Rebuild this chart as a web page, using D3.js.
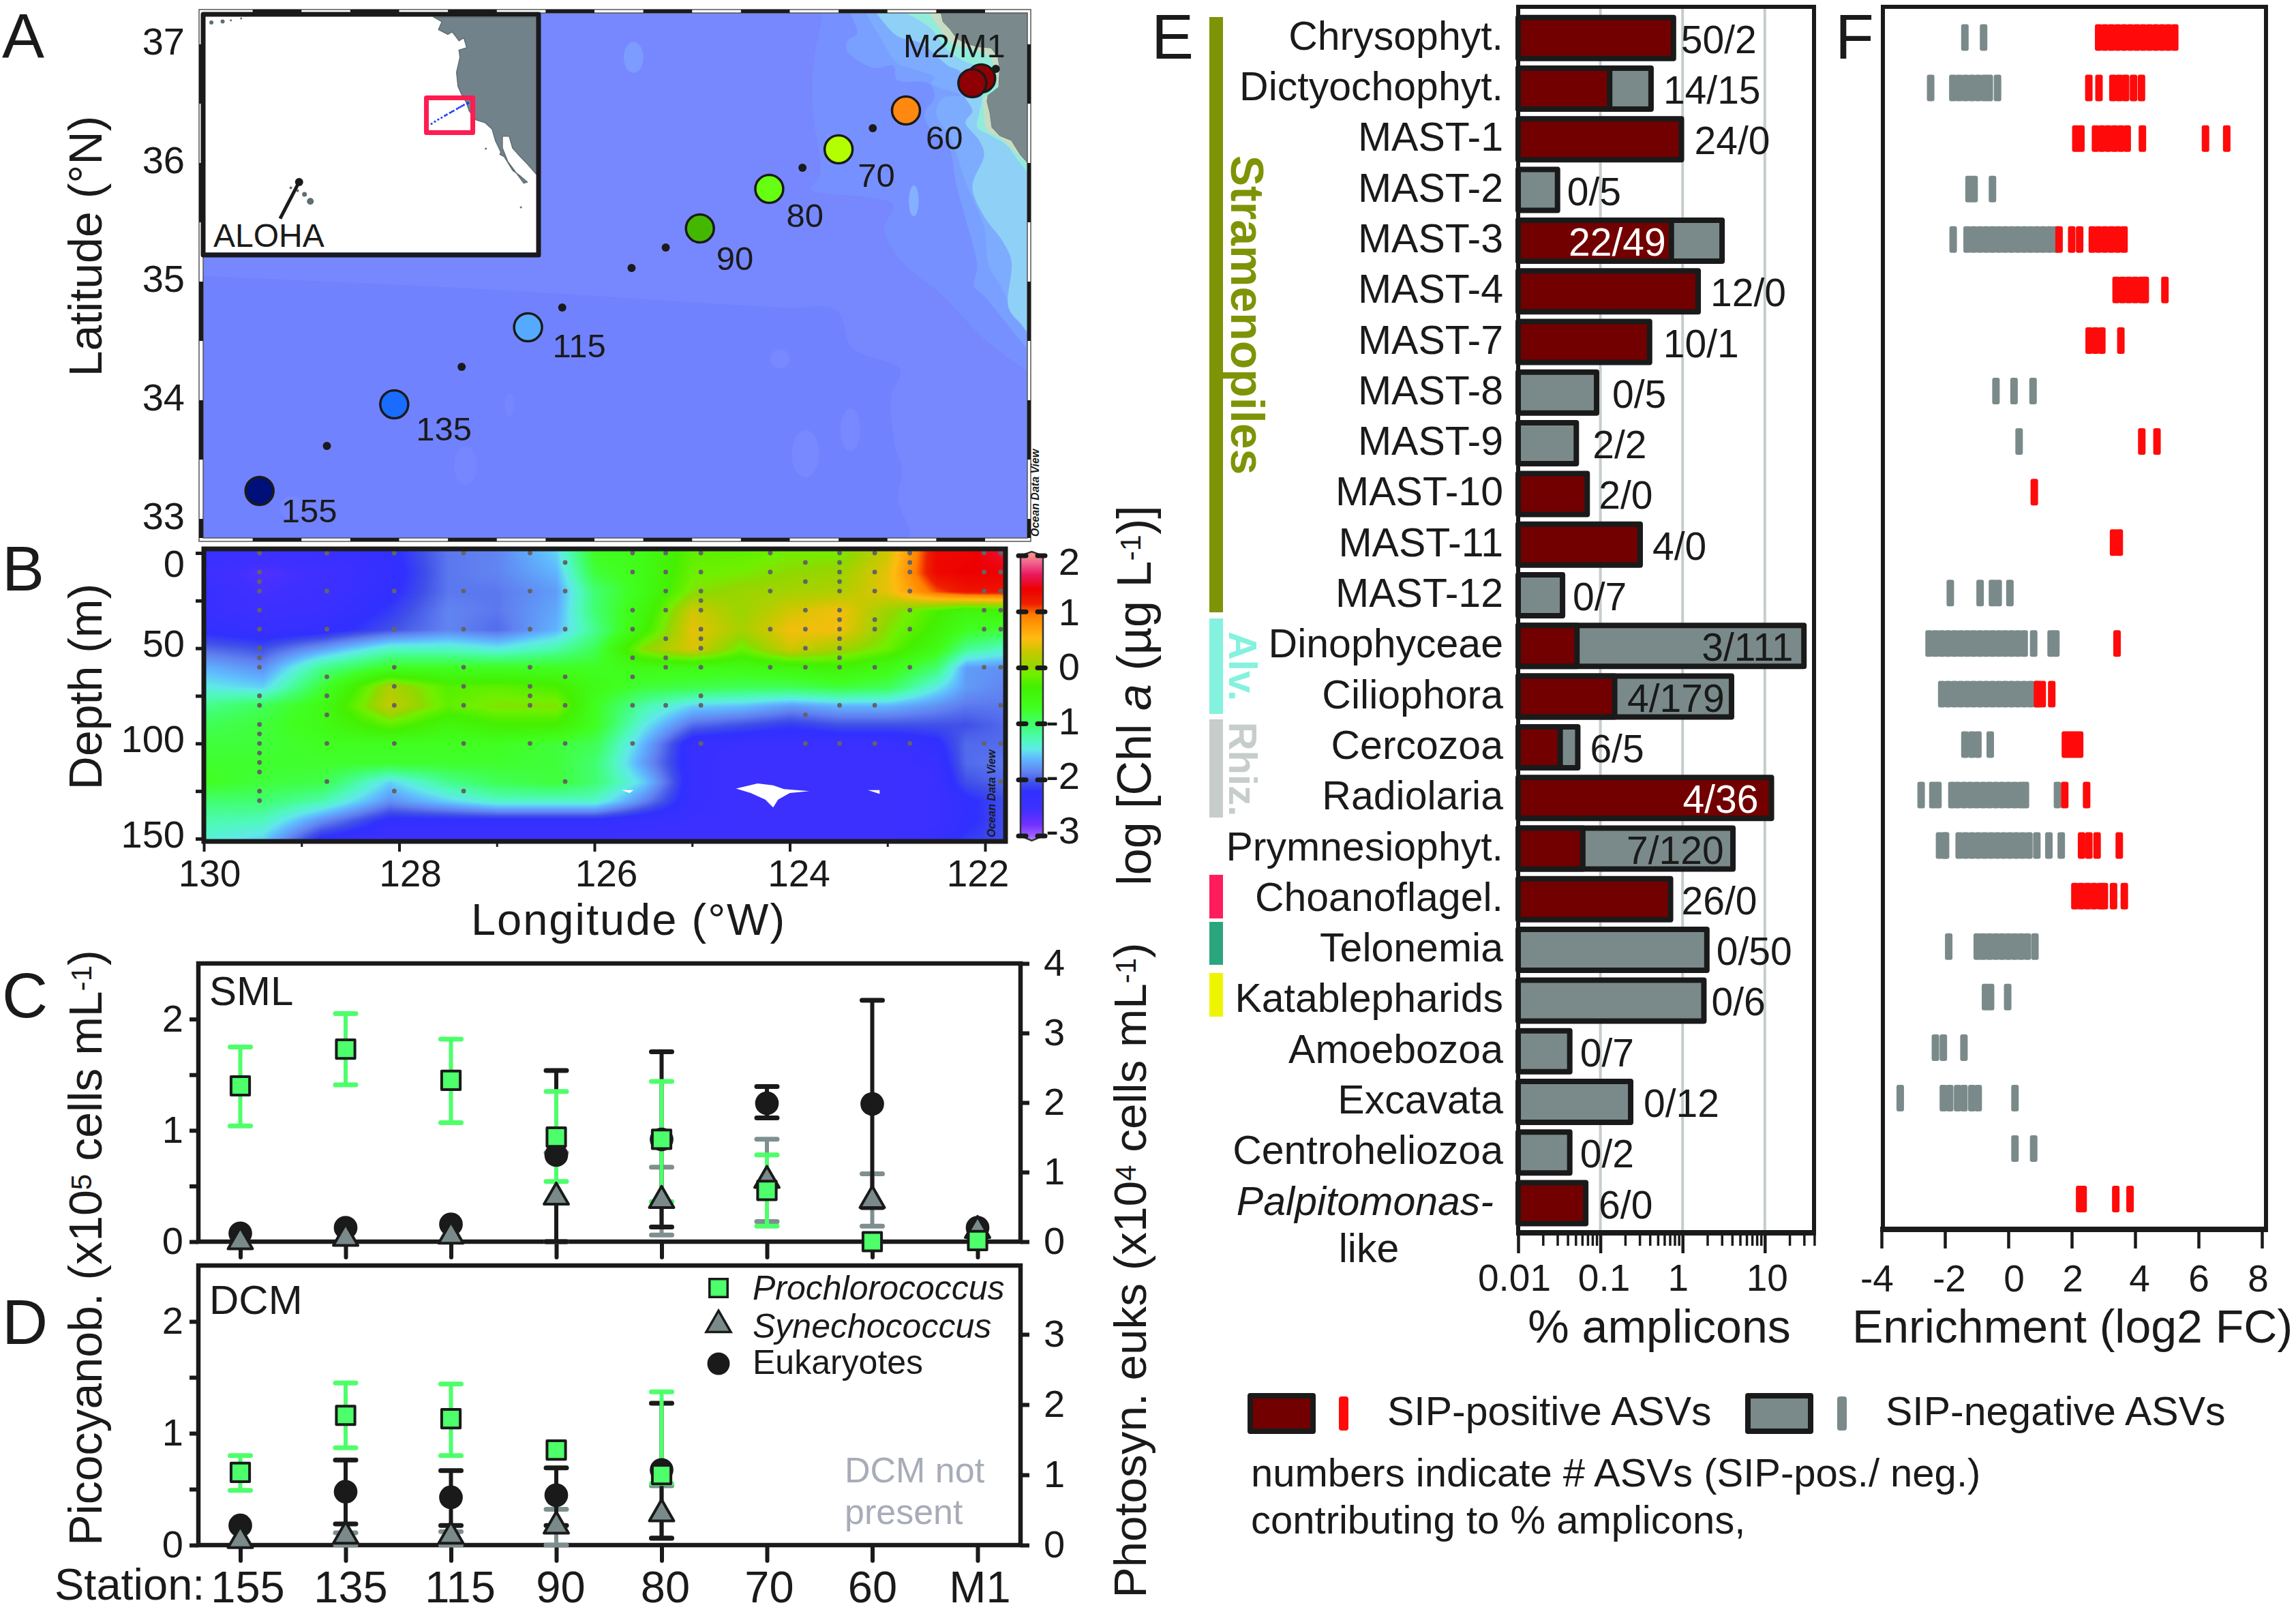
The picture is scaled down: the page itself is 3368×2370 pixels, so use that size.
<!DOCTYPE html>
<html><head><meta charset="utf-8">
<script src="https://cdn.jsdelivr.net/npm/d3@7"></script>
<style>html,body{margin:0;padding:0;background:#fff}svg{display:block}</style>
</head><body>
<script>
// ---------- DATA: panel A ----------
const stationNames=["155","135","115","90","80","70","60","M1","M2"];
const stationLon=[129.43,128.05,126.68,124.92,124.21,123.5,122.81,122.04,122.13];
const stationLat=[33.236,33.966,34.615,35.448,35.782,36.115,36.443,36.713,36.672];
const stationColor=["#00107A","#1A6CFF","#55AAFF","#44B800","#66FF11","#B2FF00","#FF8811","#8F0004","#8F0004"];
const minorLon=[128.74,127.36,126.33,125.62,125.27,123.87,123.15,121.89];
const minorLat=[33.615,34.282,34.782,35.115,35.287,35.96,36.293,36.793];
const coast=[[122.45,37.26],[122.43,37.19],[122.36,37.13],[122.29,37.05],[122.2,37.01],[122.08,36.98],[121.94,36.97],[121.87,36.9],[121.85,36.8],[121.86,36.64],[121.92,36.6],[121.97,36.57],[121.98,36.52],[121.95,36.42],[121.93,36.3],[121.85,36.23],[121.73,36.19],[121.64,36.07],[121.565,36],[121.565,37.26]];
const levelColors=["#7790FF","#7AA0FF","#7DACFF","#8FD0F6","#92ECDC","#C8DCC4"];
const levels=[
 [[123.66,37.26],[123.76,36.8],[123.76,36.42],[123.69,35.9],[123.78,35.78],[123.17,35.71],[122.94,35.65],[123.03,35.44],[122.85,35.17],[122.43,34.88],[121.97,34.49],[121.5,34.21]],
 [[123.38,37.26],[123.31,37.09],[123.41,37.03],[123.41,36.94],[123.13,36.8],[122.94,36.82],[122.9,36.7],[122.57,36.67],[122.52,36.55],[122.62,36.42],[122.57,36.3],[122.38,36.15],[122.29,35.8],[122.2,35.53],[122.08,35.13],[122.11,34.96],[122.01,34.88],[121.82,34.69],[121.5,34.36]],
 [[123.22,37.26],[123.08,37.07],[122.9,36.84],[122.76,36.8],[122.52,36.72],[122.55,36.67],[122.24,36.57],[122.43,36.55],[122.5,36.42],[122.34,36.19],[122.2,35.84],[122.01,35.46],[121.96,35.13],[121.85,34.98],[121.73,34.78],[121.5,34.48]],
 [[123.11,37.26],[122.9,37.07],[122.66,37.01],[122.38,36.82],[122.24,36.76],[122.2,36.55],[122.13,36.44],[122.2,36.34],[122.06,36.19],[122.01,36.07],[122.13,35.8],[122.01,35.55],[121.82,35.34],[121.73,35.17],[121.76,34.78],[121.62,34.63],[121.5,34.5]],
 [[122.8,37.26],[122.55,37.13],[122.38,36.95],[122.22,36.86],[122.06,36.8],[122.03,36.55],[122.06,36.42],[122.08,36.3],[121.96,36.24],[121.78,36.15],[121.66,36.02],[121.5,35.85]],
 [[122.57,37.26],[122.48,37.15],[122.34,37.01],[122.13,36.96],[121.96,36.9],[121.9,36.8],[121.89,36.61],[122.01,36.55],[122.01,36.42],[121.98,36.28],[121.83,36.2],[121.69,36.09],[121.5,35.94]]
];
const deepBasin=[[130.1,35.05],[127.2,34.94],[124.06,34.78],[123.52,34.76],[123.36,34.44],[122.87,34.26],[122.96,34.03],[122.92,33.61],[122.85,33.42],[122.89,33.17],[122.8,32.8],[130.1,32.8]];
const blobLon=[122.73,125.6,124.1,126.87,127.32,123.84,123.38,129.1];
const blobLat=[35.68,36.89,34.35,33.96,33.45,33.55,33.75,33.1];
const blobRx=[.05,.1,.1,.05,.12,.14,.1,.12];
const blobRy=[.13,.13,.08,.1,.16,.2,.18,.1];
const blobFill=["#85B0FF","#7C9CFF","#7888FF","#7686FF","#7686FF","#7888FF","#7888FF","#7686FF"];
// inset geography
const insetLand=[[128.9,51.4],[127.3,50.66],[128,49.3],[126.1,48.5],[125.2,48.9],[124.6,48.3],[123.8,47.4],[122.8,47.9],[122.2,46.2],[123.8,45.8],[123.6,44.6],[124.3,42],[124,39.6],[123.3,38.3],[122.2,36.7],[121.7,35.4],[120.3,33.9],[118.4,33.4],[117,32.3],[116.3,30.3],[115.2,28.4],[115.4,28],[114.5,27.6],[112.8,25.3],[111.2,24.3],[109.8,23.3],[110.5,23.1],[112.1,24.9],[113.8,26.8],[114.9,29.1],[114.9,31.1],[113.5,31.1],[112.8,29.1],[111.2,27.6],[109.8,26.4],[107.8,24.5],[107.8,51.4]];
const islandLon=[154.3,155.5,156.9,158.3,174.6,172.3,170.6,168.5,118.3,111.1];
const islandLat=[20,21.2,21.8,22.3,50.5,50.7,50.9,51.2,29,19];
const islandR=[5,3.5,2,2,3,3,1.5,1.5,1.5,1.5];
const alohaPoint=[156.6,23.3], alohaLeader=[160.5,17.05];
const insetBox=[[130.49,37.66],[120.97,31.73]];
// ---------- DATA: panel B ----------
const heatLons=[130,129.4,128.8,128.1,127.5,127,126.4,126,125.5,125,124.5,124,123.5,123,122.5,122.2,121.8];
const heatDepths=[0,10,20,30,40,50,60,70,80,90,100,110,120,130,140,150];
const heatValues=[
[-2.3,-2.4,-2.35,-2.2,-1.85,-1.8,-1.5,-0.7,-0.6,-0.2,-0.2,-0.1,-0.1,0.3,1.3,1.3,1.5],
[-2.4,-2.55,-2.45,-2.25,-1.85,-1.8,-1.6,-0.8,-0.6,-0.15,-0.1,0,0.05,0.4,1.3,1.35,1.35],
[-2.3,-2.5,-2.4,-2.2,-1.85,-1.85,-1.7,-1,-0.6,-0.05,0.05,0.1,0.15,0.4,1,1.2,1.2],
[-2.3,-2.4,-2.35,-2.1,-1.8,-1.85,-1.65,-1,-0.5,0.3,0.05,0.3,0.45,0.05,-0.3,-0.5,-0.4],
[-2.2,-2.3,-2.25,-2,-1.8,-1.9,-1.6,-1.1,-0.4,0.4,0.1,0.45,0.45,-0.05,-0.4,-0.7,-0.8],
[-1.9,-2,-1.7,-1.3,-1.3,-1.4,-1.2,-0.9,0,0.35,-0.15,0.3,0.1,-0.15,-0.6,-1.1,-1.3],
[-1.6,-1.75,-1.1,-0.7,-0.7,-0.7,-0.7,-0.7,-0.6,-0.6,-0.6,-0.5,-0.4,-0.6,-1,-1.7,-1.75],
[-1.4,-1.5,-0.8,0.15,-0.25,-0.2,-0.3,-0.6,-0.8,-0.85,-0.9,-0.9,-0.8,-0.9,-1.4,-1.7,-1.8],
[-1.1,-0.9,-0.6,0.25,-0.2,-0.05,-0.05,-0.7,-1.2,-1.5,-1.55,-1.7,-1.6,-1.6,-1.75,-1.85,-1.85],
[-0.9,-0.8,-0.6,-0.2,-0.5,-0.35,-0.35,-0.7,-1.4,-1.9,-2,-2.1,-2,-2,-2,-2,-1.9],
[-0.8,-0.8,-0.7,-0.7,-0.7,-0.7,-0.8,-0.9,-1.6,-2.3,-2.35,-2.35,-2.35,-2.35,-2.2,-1.9,-1.9],
[-0.75,-0.75,-0.75,-0.75,-0.75,-0.75,-0.8,-1,-1.7,-2.3,-2.4,-2.4,-2.4,-2.4,-2.3,-1.9,-1.85],
[-0.7,-0.8,-0.85,-1.5,-1.1,-0.9,-0.8,-1,-1.5,-2.3,-2.4,-2.4,-2.4,-2.4,-2.35,-2,-1.9],
[-1,-1,-1.2,-1.75,-1.5,-1.3,-1.3,-1.3,-1.8,-2.3,-2.4,-2.4,-2.4,-2.4,-2.35,-2.2,-2],
[-1.2,-1.25,-1.75,-2.2,-2.2,-2.2,-2.2,-2.2,-2.3,-2.35,-2.4,-2.4,-2.4,-2.4,-2.35,-2.2,-2],
[-1.35,-1.5,-2.2,-2.4,-2.4,-2.4,-2.4,-2.4,-2.4,-2.4,-2.4,-2.4,-2.4,-2.4,-2.3,-2.1,-2]];
const colorValues=[-3,-2.92,-2.72,-2.47,-2.15,-2,-1.82,-1.58,-1.42,-1.27,-1,-.7,-.33,-.12,0,.27,.5,.9,1.1,1.35,1.6,1.8,2];
const colorStops=["#C090FF","#A060FF","#7030FF","#4030FF","#3030FF","#4050E8","#6080F0","#60B8FF","#60E8E8","#50F8C0","#40FF70","#40FF20","#44F000","#70F000","#90D800","#C8C800","#FFBB11","#FF8000","#EE2000","#EE0000","#E8185C","#F06090","#FFA080"];
const castLons=[129.43,128.74,128.05,127.34,126.66,126.3,125.61,125.27,124.91,124.2,123.84,123.49,123.13,122.77,122.01,121.84];
const castDepths=[
[0,10,15,20,30,40,50,55,60,75,80,90,95,100,105,110,115,125,130],
[0,20,40,65,75,85,100,120],[0,20,40,60,70,80,100,125],[0,20,40,60,70,80,100,125],
[0,20,40,60,70,75,80,100],[5,20,40,65,80,100,120],[0,10,30,40,55,65,80,100],[0,10,20,30,45,55,60,80],
[0,10,20,25,30,40,45,50,60,75,80,100],[0,10,20,40,60],[5,15,30,40,50,60,85,100],
[0,5,10,15,20,30,35,40,45,50,55,60,80,100],[0,10,20,35,40,60,80,100],[0,5,10,20,30,40,60,100],
[0,10,20,30,40,60,100],[0,10,20,30,40,60,80,100,120]];
const heatGaps=[
[[124.55,123.7],[124.33,121],[124.17,122],[124.06,124],[123.8,125],[124,126],[124.12,129.5],[124.17,133.6],[124.25,129.5],[124.4,126]],
[[125.72,124.5],[125.6,124.5],[125.64,126]],
[[123.2,124.5],[123.08,124.5],[123.08,126.5]]];
// ---------- DATA: panels C, D ----------
const stations=["155","135","115","90","80","70","60","M1"];
const proSML=[1.40,1.73,1.45,.94,.92,.46,0,.01], proSMLlo=[1.04,1.41,1.07,.54,.36,.14,null,null], proSMLhi=[1.75,2.05,1.82,1.35,1.44,.78,null,null];
const synSML=[0,.03,.05,.40,.37,.55,.37,.1], synSMLlo=[null,null,null,0,.06,.18,.14,null], synSMLhi=[null,null,null,.8,.67,.92,.61,null];
const eukSML=[.12,.2,.25,1.245,1.47,1.99,1.98,.2], eukSMLlo=[null,null,null,0,.21,1.78,.49,null], eukSMLhi=[null,null,null,2.46,2.73,2.23,3.47,null];
const proDCM=[.65,1.16,1.13,.85,.63], proDCMlo=[.49,.87,.80,null,.55], proDCMhi=[.80,1.45,1.44,null,1.37];
const synDCM=[.04,.08,.08,.17,.28], synDCMlo=[null,0,0,0,.06], synDCMhi=[null,.11,.12,.32,.53];
const eukDCM=[.28,.76,.68,.71,1.07], eukDCMlo=[null,.30,.28,.28,.10], eukDCMhi=[null,1.21,1.06,1.10,2.02];
// ---------- DATA: panels E, F ----------
const categories=["Chrysophyt.","Dictyochophyt.","MAST-1","MAST-2","MAST-3","MAST-4","MAST-7","MAST-8","MAST-9","MAST-10","MAST-11","MAST-12","Dinophyceae","Ciliophora","Cercozoa","Radiolaria","Prymnesiophyt.","Choanoflagel.","Telonemia","Katablepharids","Amoebozoa","Excavata","Centroheliozoa","Palpitomonas-"];
const amplTotal=[.836,.446,1.045,.0325,3.26,1.67,.428,.097,.055,.0746,.329,.0374,32.3,4.25,.0573,13,4.42,.77,2.13,1.96,.0458,.252,.0458,.0716];
const amplPositive=[.836,.14,1.045,0,.787,1.67,.428,0,.0104,.0746,.329,0,.056,.161,.035,13,.066,.77,0,0,0,0,0,.0716];
const asvLabels=["50/2","14/15","24/0","0/5","22/49","12/0","10/1","0/5","2/2","2/0","4/0","0/7","3/111","4/179","6/5","4/36","7/120","26/0","0/50","0/6","0/7","0/12","0/2","6/0"];
const rugNegative=[
[-1.37,-.78],
[-2.45,-1.75,-1.55,-1.35,-1.15,-.95,-.75,-.6,-.34],
[],
[-1.24,-1.08,-.5],
[-1.74,-1.3,-1.1,-.9,-.7,-.5,-.3,-.1,.1,.3,.5,.7,.9,1.1,1.3,1.5],
[],
[],
[-.39,.18,.78],
[.34],
[],
[],
[-1.83,-.89,-.5,-.32,.05],
[-2.5,-2.3,-2.1,-1.9,-1.7,-1.5,-1.3,-1.1,-.9,-.7,-.5,-.3,-.1,.1,.3,.5,.8,1.35,1.5],
[-2.1,-1.9,-1.7,-1.5,-1.3,-1.1,-.9,-.7,-.5,-.3,-.1,.1,.3,.5,.7,.9],
[-1.37,-1.15,-.96,-.57],
[-2.75,-2.38,-2.22,-1.78,-1.6,-1.4,-1.2,-1,-.8,-.6,-.4,-.2,0,.2,.4,.54,1.55],
[-2.17,-2,-1.98,-1.55,-1.35,-1.15,-.95,-.75,-.55,-.35,-.15,.05,.25,.45,.65,.9,1.28,1.67],
[],
[-1.88,-.98,-.8,-.6,-.4,-.2,0,.2,.4,.6,.84],
[-.72,-.56,-.02],
[-2.3,-2.05,-1.4],
[-3.41,-2.05,-1.85,-1.6,-1.4,-1.15,-.95,.21],
[.21,.8],
[]];
const rugPositive=[
[2.85,3.05,3.25,3.45,3.65,3.85,4.05,4.25,4.45,4.65,4.85,5.05,5.25],
[2.54,2.86,3.3,3.5,3.7,3.95,4.2],
[2.13,2.29,2.75,2.95,3.15,3.35,3.55,3.75,4.23,6.22,6.89],
[],
[1.6,2,2.25,2.65,2.85,3.05,3.25,3.45,3.65],
[3.4,3.6,3.8,4,4.2,4.32,4.94],
[2.55,2.75,2.95,3.55],
[],
[4.21,4.69],
[.82],
[3.32,3.5],
[],
[3.43],
[.92,1.07,1.37],
[1.8,1.95,2.1,2.25],
[1.78,2.47],
[2.31,2.54,2.8,3.5],
[2.1,2.3,2.5,2.7,2.9,3.03,3.32,3.66],
[],[],[],[],[],
[2.25,2.36,3.39,3.84]];
const groupNames=["Stramenopiles","Alv.","Rhiz.","","",""];
const groupColors=["#7F9307","#84F2DE","#C6CDCB","#FF1C5C","#2AA57E","#EFF500"];
const groupTop=[25,907,1055,1283,1352,1427];
const groupBottom=[898,1047,1199,1347,1415,1491];

// ---------- LAYOUT ----------
const INK="#1A1A1A", FONT="Liberation Sans", GREY="#7A8A8A", DARKRED="#720000", RUGRED="#FF0A0A";
const svg=d3.select("body").append("svg").attr("width",3368).attr("height",2370).attr("viewBox","0 0 3368 2370")
  .attr("font-family",FONT).attr("fill",INK);
const defs=svg.append("defs");
function txt(sel,x,y,s,o={}){
  const t=sel.append("text").attr("x",x).attr("y",y).attr("font-size",o.size||56).attr("fill",o.fill||INK)
    .attr("text-anchor",o.anchor||"start");
  if(o.italic)t.attr("font-style","italic");
  if(o.bold)t.attr("font-weight","bold");
  if(o.spacing)t.attr("letter-spacing",o.spacing);
  if(o.rot!=null)t.attr("transform",`rotate(${o.rot} ${x} ${y})`);
  if(Array.isArray(s)){s.forEach(p=>{const ts=t.append("tspan").text(p.t);
     if(p.sup)ts.attr("font-size","62%").attr("baseline-shift","35%");
     if(p.i)ts.attr("font-style","italic");});}
  else t.text(s);
  return t;
}
function axisStyle(g,w,size,c=INK){g.select(".domain").remove();g.selectAll(".tick line").attr("stroke",c).attr("stroke-width",w);
  g.selectAll(".tick text").attr("fill",INK);
  g.attr("font-family",FONT);if(size)g.attr("font-size",size);return g;}

// panel letters
[["A",3,85],["B",3,866],["C",3,1492],["D",3,1971],["E",1689,86],["F",2692,86]].forEach(d=>txt(svg,d[1],d[2],d[0],{size:93}));

// ---------- Panel A ----------
const lonX=d3.scaleLinear().domain([130,122]).range([299,1445]);
const latY=d3.scaleLinear().domain([37,33]).range([65,761]);
const geo=d3.line().x(d=>lonX(d[0])).y(d=>latY(d[1]));
const geoSmooth=d3.line().x(d=>lonX(d[0])).y(d=>latY(d[1])).curve(d3.curveCatmullRom.alpha(.5));
const pA=svg.append("g");
const mapL=298,mapR=1507,mapT=19,mapB=789;
defs.append("clipPath").attr("id","mapClip").append("rect").attr("x",mapL).attr("y",mapT).attr("width",mapR-mapL).attr("height",mapB-mapT);
const mapG=pA.append("g").attr("clip-path","url(#mapClip)");
mapG.append("rect").attr("x",mapL).attr("y",mapT).attr("width",mapR-mapL).attr("height",mapB-mapT).attr("fill","#7788FF");
mapG.append("path").attr("d",geoSmooth(deepBasin)+"Z").attr("fill","#7182FF");
const cornerLon=121.3, cornerLat=37.45;
mapG.selectAll("path.lev").data(levels).join("path").attr("class","lev")
  .attr("d",d=>geoSmooth(d)+`L${lonX(cornerLon)},${latY(d[d.length-1][1])}L${lonX(cornerLon)},${latY(cornerLat)}L${lonX(d[0][0])},${latY(cornerLat)}Z`)
  .attr("fill",(d,i)=>levelColors[i]);
mapG.selectAll("ellipse").data(blobLon).join("ellipse")
  .attr("cx",d=>lonX(d)).attr("cy",(d,i)=>latY(blobLat[i]))
  .attr("rx",(d,i)=>lonX(0)-lonX(blobRx[i])).attr("ry",(d,i)=>latY(0)-latY(blobRy[i])).attr("fill",(d,i)=>blobFill[i]);
mapG.append("path").attr("d",geo(coast)+"Z").attr("fill","#7A8A8C").attr("stroke","#6E7C7E").attr("stroke-width",1);
// frame with alternating ticks
const fr=pA.append("g");
fr.append("rect").attr("x",292).attr("y",14).attr("width",1220).attr("height",780).attr("fill","none").attr("stroke","#555").attr("stroke-width",1.5);
fr.append("rect").attr("x",mapL).attr("y",mapT).attr("width",mapR-mapL).attr("height",mapB-mapT).attr("fill","none").attr("stroke","#555").attr("stroke-width",1.5);
const blackLons=d3.range(129.5,122,-1), blackLats=d3.range(37,32.9,-1);
[[14,19],[789,794]].forEach(e=>fr.selectAll(null).data(blackLons).join("rect")
  .attr("x",d=>lonX(d)).attr("width",d=>lonX(d-.5)-lonX(d)).attr("y",e[0]).attr("height",e[1]-e[0]).attr("fill",INK));
[[292,298],[1507,1512]].forEach(e=>fr.selectAll(null).data(blackLats).join("rect")
  .attr("y",d=>latY(d)).attr("height",d=>Math.min(latY(d-.5),mapB)-latY(d)).attr("x",e[0]).attr("width",e[1]-e[0]).attr("fill",INK));
// latitude labels
const latAxis=pA.append("g").attr("transform","translate(292,0)").call(d3.axisLeft(latY).tickValues([33,34,35,36,37]).tickFormat(d3.format("d")).tickSize(0).tickPadding(21));
axisStyle(latAxis,0,56);latAxis.selectAll("text").attr("transform","translate(0,-3)");
txt(pA,149,361,"Latitude (°N)",{size:68,anchor:"middle",rot:-90});
// stations
pA.selectAll("circle.minor").data(minorLon).join("circle").attr("class","minor").attr("cx",d=>lonX(d)).attr("cy",(d,i)=>latY(minorLat[i])).attr("r",6).attr("fill",INK);
pA.selectAll("circle.st").data(stationLon).join("circle").attr("class","st").attr("cx",d=>lonX(d)).attr("cy",(d,i)=>latY(stationLat[i])).attr("r",20.5)
  .attr("fill",(d,i)=>stationColor[i]).attr("stroke",INK).attr("stroke-width",3.5);
const stationLabelOffset=[[32,46],[32,53],[36,44],[24,61],[25,56],[28,55],[29,57]];
stationLabelOffset.forEach((o,i)=>txt(pA,lonX(stationLon[i])+o[0],latY(stationLat[i])+o[1],stationNames[i],{size:49}));
txt(pA,1325,84,"M2/M1",{size:49});
txt(pA,1524,787,"Ocean Data View",{size:16,bold:true,italic:true,rot:-90});
// inset
const insetL=304,insetR=787,insetT=25,insetB=370;
const insetX=d3.scaleLinear().domain([125.8,107.8]).range([659,787.7]);
const insetY=d3.scaleLinear().domain([37.25,24.5]).range([147,256.6]);
const ins=pA.append("g");
ins.append("rect").attr("x",insetL-6).attr("y",insetT-3).attr("width",insetR-insetL+6).attr("height",insetB-insetT+3).attr("fill","#fff");
const insetPath=d3.line().x(d=>insetX(d[0])).y(d=>insetY(d[1]));
ins.append("path").attr("d",insetPath(insetLand)+"Z").attr("fill","#72828A").attr("stroke","#5E6E74").attr("stroke-width",1.5);
ins.selectAll("circle.isl").data(islandLon).join("circle").attr("class","isl").attr("cx",d=>insetX(d)).attr("cy",(d,i)=>insetY(islandLat[i])).attr("r",(d,i)=>islandR[i]).attr("fill","#5E6E74");
ins.append("line").attr("x1",insetX(alohaPoint[0])).attr("y1",insetY(alohaPoint[1])).attr("x2",insetX(alohaLeader[0])).attr("y2",insetY(alohaLeader[1])).attr("stroke",INK).attr("stroke-width",5);
ins.append("circle").attr("cx",insetX(alohaPoint[0])).attr("cy",insetY(alohaPoint[1])).attr("r",6).attr("fill",INK);
txt(ins,313,362,"ALOHA",{size:48});
ins.append("rect").attr("x",insetX(insetBox[0][0])).attr("y",insetY(insetBox[0][1])).attr("width",insetX(insetBox[1][0])-insetX(insetBox[0][0])).attr("height",insetY(insetBox[1][1])-insetY(insetBox[0][1]))
  .attr("fill","none").attr("stroke","#FF1C50").attr("stroke-width",7).attr("stroke-linejoin","round");
ins.selectAll("circle.blue").data(stationLon.concat(minorLon)).join("circle").attr("class","blue").attr("cx",d=>insetX(d)).attr("cy",(d,i)=>insetY(stationLat.concat(minorLat)[i])).attr("r",1.6).attr("fill","#1C3CFF");
ins.append("rect").attr("x",298).attr("y",21).attr("width",492).attr("height",353).attr("fill","none").attr("stroke",INK).attr("stroke-width",7).attr("stroke-linejoin","round");

// ---------- Panel B ----------
const pB=svg.append("g");
const depthY=d3.scaleLinear().domain([0,150]).range([811,1230]);
const heatColor=d3.scaleLinear().domain(colorValues).range(colorStops).clamp(true);
const bL=299,bR=1475,bT=805,bB=1234;
const iLon=d3.scaleLinear().domain(heatLons).range(d3.range(heatLons.length)).clamp(true);
const iDep=d3.scaleLinear().domain(heatDepths).range(d3.range(heatDepths.length)).clamp(true);
const cv=document.createElement("canvas");cv.width=bR-bL;cv.height=bB-bT;const ctx=cv.getContext("2d");
for(let py=0;py<cv.height;py+=2){for(let px=0;px<cv.width;px+=2){
  const a=iLon(lonX.invert(bL+px)), b=iDep(depthY.invert(bT+py));
  const a0=Math.min(Math.floor(a),heatLons.length-2), b0=Math.min(Math.floor(b),heatDepths.length-2), fa=a-a0, fb=b-b0;
  const v=(1-fb)*((1-fa)*heatValues[b0][a0]+fa*heatValues[b0][a0+1])+fb*((1-fa)*heatValues[b0+1][a0]+fa*heatValues[b0+1][a0+1]);
  ctx.fillStyle=heatColor(v);ctx.fillRect(px,py,2,2);
}}
pB.append("image").attr("x",bL).attr("y",bT).attr("width",bR-bL).attr("height",bB-bT).attr("href",cv.toDataURL()).attr("preserveAspectRatio","none");
const heatPath=d3.line().x(d=>lonX(d[0])).y(d=>depthY(d[1]));
pB.selectAll("path.gap").data(heatGaps).join("path").attr("class","gap").attr("d",d=>heatPath(d)+"Z").attr("fill","#fff");
castLons.forEach((lon,i)=>pB.selectAll(null).data(castDepths[i]).join("circle").attr("cx",lonX(lon)).attr("cy",d=>depthY(d)).attr("r",3.4).attr("fill","#646464"));
pB.append("rect").attr("x",bL).attr("y",bT).attr("width",bR-bL).attr("height",bB-bT).attr("fill","none").attr("stroke",INK).attr("stroke-width",7);
const depthAxis=pB.append("g").attr("transform",`translate(${bL-2},0)`).call(d3.axisLeft(depthY).tickValues([0,25,50,75,100,125,150]).tickFormat(d=>d%50?"":d).tickSize(10).tickPadding(16));
axisStyle(depthAxis,5,56);
depthAxis.selectAll(".tick text").attr("transform",d=>`translate(0,${({0:17,50:-6,100:-6,150:-5})[d]||0})`);
const lonMinor=pB.append("g").attr("transform",`translate(0,${bB})`).call(d3.axisBottom(lonX).tickValues([129,127,125,123]).tickFormat("").tickSize(8));axisStyle(lonMinor,3);
const lonMajor=pB.append("g").attr("transform",`translate(0,${bB})`).call(d3.axisBottom(lonX).tickValues([130,128,126,124,122]).tickFormat(d3.format("d")).tickSize(15).tickPadding(12));axisStyle(lonMajor,4,55);
lonMajor.selectAll(".tick text").attr("transform",d=>`translate(${({130:8,128:16,126:17,124:13,122:-11})[d]},0)`);
txt(pB,149,1007,"Depth (m)",{size:68,anchor:"middle",rot:-90});
txt(pB,922,1371,"Longitude (°W)",{size:65,anchor:"middle",spacing:2});
txt(pB,1460,1228,"Ocean Data View",{size:16,italic:true,bold:true,rot:-90});
// colour bar
const cbY=d3.scaleLinear().domain([2,-3]).range([815,1226]);
const grad=defs.append("linearGradient").attr("id","cb").attr("x1",0).attr("x2",0).attr("y1",0).attr("y2",1);
colorValues.slice().reverse().forEach((v,i)=>grad.append("stop").attr("offset",cbY(v)/411-815/411).attr("stop-color",colorStops[colorStops.length-1-i]));
const cbL=1497,cbR=1530,cbM=(cbL+cbR)/2;
pB.append("path").attr("d",`M${cbL},${cbY(2)}L${cbM},${cbY(2)-6}L${cbR},${cbY(2)}L${cbR},${cbY(-3)}L${cbM},${cbY(-3)+7}L${cbL},${cbY(-3)}Z`)
  .attr("fill","url(#cb)").attr("stroke","#333").attr("stroke-width",2.5);
const cbTicks=[2,1,0,-1,-2,-3], cbLabelNudge=[28,20,18,15,13,11];
pB.selectAll(null).data(cbTicks).join("g").each(function(d,i){
  const g=d3.select(this);
  [[cbL-3,cbL+8],[cbR-8,cbR+3]].forEach(e=>g.append("line").attr("x1",e[0]).attr("x2",e[1]).attr("y1",cbY(d)).attr("y2",cbY(d)).attr("stroke",INK).attr("stroke-width",7).attr("stroke-linecap","round"));
  txt(g,1584,cbY(d)+cbLabelNudge[i],String(d),{size:56,anchor:"end"});
});
txt(pB,1688,1020,[{t:"log [Chl "},{t:"a",i:true},{t:" (µg L"},{t:"-1",sup:true},{t:")]"}],{size:70,anchor:"middle",rot:-90});

// ---------- Panels C, D ----------
const stX=d3.scalePoint().domain(stations).range([352.5,1434]);
function popPanel(o){
  const g=svg.append("g");
  const yL=d3.scaleLinear().domain([0,2.5]).range([o.bottom,o.top]);
  const yR=d3.scaleLinear().domain([0,o.rmax]).range([o.bottom,o.top]);
  const L=291,R=1497;
  const ax=g.append("g");
  const leftA=ax.append("g").attr("transform",`translate(${L},0)`).call(d3.axisLeft(yL).tickValues([0,.5,1,1.5,2]).tickFormat(d=>Number.isInteger(d)?d:"").tickSize(13).tickPadding(9));
  axisStyle(leftA,6,56);
  const rightA=ax.append("g").attr("transform",`translate(${R},0)`).call(d3.axisRight(yR).tickValues(o.rticks).tickFormat(d3.format("d")).tickSize(13).tickPadding(21));
  axisStyle(rightA,6,56);
  const botA=ax.append("g").attr("transform",`translate(0,${o.bottom})`).call(d3.axisBottom(stX).tickSize(23).tickPadding(15).tickFormat(o.xlabels?(d=>d):""));
  axisStyle(botA,6,65);
  botA.selectAll(".tick line").attr("stroke-linecap","round");
  if(o.xlabels){const nudge=[10.5,7,13,6,5,3,0,3];botA.selectAll(".tick text").attr("transform",(d,i)=>`translate(${nudge[i]},0)`);}
  g.append("rect").attr("x",L).attr("y",o.top).attr("width",R-L).attr("height",o.bottom-o.top).attr("fill","none").attr("stroke",INK).attr("stroke-width",6.5);
  const cat=o.pro.map((d,i)=>stations[i]);
  const err=(vals,lo,hi,y,col)=>{
    cat.forEach((s,i)=>{ if(lo[i]==null&&hi[i]==null)return;
      const x=stX(s), y0=y(lo[i]!=null?lo[i]:vals[i]), y1=y(hi[i]!=null?hi[i]:vals[i]);
      g.append("line").attr("x1",x).attr("x2",x).attr("y1",y0).attr("y2",y1).attr("stroke",col).attr("stroke-width",6);
      [lo[i],hi[i]].forEach(v=>{if(v!=null)g.append("line").attr("x1",x-15).attr("x2",x+15).attr("y1",y(v)).attr("y2",y(v)).attr("stroke",col).attr("stroke-width",7).attr("stroke-linecap","round");});
    });
  };
  err(o.syn,o.synLo,o.synHi,yL,"#7F8F8F");
  err(o.euk,o.eukLo,o.eukHi,yR,INK);
  err(o.pro,o.proLo,o.proHi,yL,"#4DFF6A");
  const sym=(type,size,vals,y,fill)=>g.selectAll(null).data(vals).join("path")
    .attr("d",d3.symbol().type(type).size(size)()).attr("transform",(d,i)=>`translate(${stX(cat[i])},${y(d)})`)
    .attr("fill",fill).attr("stroke",INK).attr("stroke-width",4).attr("stroke-linejoin","round");
  sym(d3.symbolCircle,740,o.euk,yR,INK);
  sym(d3.symbolTriangle,560,o.syn,yL,GREY);
  sym(d3.symbolSquare,740,o.pro,yL,"#4DFF6A");
  return g;
}
const gC=popPanel({top:1413,bottom:1821,rmax:4,rticks:[0,1,2,3,4],pro:proSML,proLo:proSMLlo,proHi:proSMLhi,syn:synSML,synLo:synSMLlo,synHi:synSMLhi,euk:eukSML,eukLo:eukSMLlo,eukHi:eukSMLhi});
const gD=popPanel({top:1856,bottom:2266,rmax:3.98,rticks:[0,1,2,3],xlabels:true,pro:proDCM,proLo:proDCMlo,proHi:proDCMhi,syn:synDCM,synLo:synDCMlo,synHi:synDCMhi,euk:eukDCM,eukLo:eukDCMlo,eukHi:eukDCMhi});
txt(gC,307,1474,"SML",{size:60});
txt(gD,307,1927,"DCM",{size:60});
txt(gD,80,2346,"Station:",{size:65});
txt(gD,1104,1906,"Prochlorococcus",{size:50,italic:true});
txt(gD,1104,1962,"Synechococcus",{size:50,italic:true});
txt(gD,1104,2015,"Eukaryotes",{size:50});
[[d3.symbolSquare,700,"#4DFF6A",1889],[d3.symbolTriangle,560,GREY,1943],[d3.symbolCircle,680,INK,2000]].forEach(d=>
  gD.append("path").attr("d",d3.symbol().type(d[0]).size(d[1])()).attr("transform",`translate(1054,${d[3]})`).attr("fill",d[2]).attr("stroke",INK).attr("stroke-width",3.5));
txt(gD,1239,2174,"DCM not",{size:52,fill:"#A8ACB8"});
txt(gD,1239,2235,"present",{size:52,fill:"#A8ACB8"});
txt(svg,149,1830,[{t:"Picocyanob. (x10"},{t:"5",sup:true},{t:" cells mL"},{t:"-1",sup:true},{t:")"}],{size:68,anchor:"middle",rot:-90});
txt(svg,1681,1863,[{t:"Photosyn. euks (x10"},{t:"4",sup:true},{t:" cells mL"},{t:"-1",sup:true},{t:")"}],{size:67.5,anchor:"middle",rot:-90});

// ---------- Panel E ----------
const pE=svg.append("g");
const xE=d3.scaleLog().domain([.01,40]).range([2227,2661.4]);
const rowsE=d3.scaleBand().domain(categories).range([55.7-37.15,55.7+23*74.3+37.15]);
const yBar=c=>rowsE(c)+rowsE.bandwidth()/2;
pE.selectAll("line.grid").data([.1,1,10]).join("line").attr("class","grid").attr("x1",d=>xE(d)).attr("x2",d=>xE(d)).attr("y1",10).attr("y2",1815).attr("stroke","#C5CCCC").attr("stroke-width",4);
const barH=60;
categories.forEach((c,i)=>{
  const x0=xE(.01);
  if(amplTotal[i]>amplPositive[i])
    pE.append("rect").attr("x",x0).attr("y",yBar(c)-barH/2).attr("width",xE(amplTotal[i])-4-x0).attr("height",barH).attr("fill",GREY).attr("stroke",INK).attr("stroke-width",8).attr("stroke-linejoin","round");
  if(amplPositive[i]>0)
    pE.append("rect").attr("x",x0).attr("y",yBar(c)-barH/2).attr("width",xE(amplPositive[i])-4-x0).attr("height",barH).attr("fill",DARKRED).attr("stroke",INK).attr("stroke-width",8).attr("stroke-linejoin","round");
});
// labels
const labelGap=[7,14,15,10,-229,14,16,19,20,13,14,11,-154,-157,14,-134,-160,12,10,7,11,15,11,15];
const labelFill=asvLabels.map((d,i)=>(i===4||i===15)?"#fff":INK);
asvLabels.forEach((s,i)=>txt(pE,xE(amplTotal[i])+labelGap[i],yBar(categories[i])+22,s,{size:57,fill:labelFill[i]}));
categories.forEach((c,i)=>{ if(i<23) txt(pE,2205,yBar(c)+17,c,{size:59,anchor:"end"}); });
txt(pE,2191,yBar(categories[23])+17,categories[23],{size:59,anchor:"end",italic:true});
txt(pE,2008,1851,"like",{size:59,anchor:"middle"});
// frame
pE.append("path").attr("d",`M2227,1808L2227,10L2661,10L2661,1808`).attr("fill","none").attr("stroke",INK).attr("stroke-width",6);
const eMinorVals=[.02,.03,.04,.05,.06,.07,.08,.09,.2,.3,.4,.5,.6,.7,.8,.9,2,3,4,5,6,7,8,9,20,30,40];
const eMinor=pE.append("g").attr("transform","translate(0,1808)").call(d3.axisBottom(xE).tickValues(eMinorVals).tickFormat("").tickSize(19));axisStyle(eMinor,3.5);
const eMajor=pE.append("g").attr("transform","translate(0,1808)").call(d3.axisBottom(xE).tickValues([.01,.1,1,10]).tickFormat(d=>String(d)).tickSize(30).tickPadding(16));axisStyle(eMajor,4.5,55);
eMajor.selectAll(".tick text").attr("transform",(d,i)=>`translate(${[-6,5,-7,3][i]},0)`);
pE.append("line").attr("x1",2224).attr("x2",2664).attr("y1",1808).attr("y2",1808).attr("stroke",INK).attr("stroke-width",8);
txt(pE,2434,1969,"% amplicons",{size:68,anchor:"middle"});
// taxonomic group bars
pE.selectAll("rect.grp").data(groupColors).join("rect").attr("class","grp").attr("x",1774).attr("width",20).attr("y",(d,i)=>groupTop[i]).attr("height",(d,i)=>groupBottom[i]-groupTop[i]).attr("fill",d=>d);
txt(pE,1806,462,groupNames[0],{size:68,bold:true,anchor:"middle",rot:90,fill:groupColors[0]});
txt(pE,1803,977,groupNames[1],{size:58,bold:true,anchor:"middle",rot:90,fill:groupColors[1]});
txt(pE,1803,1128,groupNames[2],{size:58,bold:true,anchor:"middle",rot:90,fill:groupColors[2]});

// ---------- Panel F ----------
const pF=svg.append("g");
const xF=d3.scaleLinear().domain([-4,8]).range([2760,3318]);
const rowsF=d3.scaleBand().domain(categories).range([55-37.03,55+23*74.07+37.03]);
const yRug=c=>rowsF(c)+rowsF.bandwidth()/2;
const rugW=11,rugH=39;
categories.forEach((c,i)=>{
  pF.selectAll(null).data(rugNegative[i]).join("rect").attr("x",d=>xF(d)-rugW/2).attr("y",yRug(c)-rugH/2).attr("width",rugW).attr("height",rugH).attr("rx",3).attr("fill",GREY);
  pF.selectAll(null).data(rugPositive[i]).join("rect").attr("x",d=>xF(d)-rugW/2).attr("y",yRug(c)-rugH/2).attr("width",rugW).attr("height",rugH).attr("rx",3).attr("fill",RUGRED);
});
pF.append("path").attr("d","M2762,1803L2762,10L3324,10L3324,1803").attr("fill","none").attr("stroke",INK).attr("stroke-width",6);
const fAxis=pF.append("g").attr("transform","translate(0,1803)").call(d3.axisBottom(xF).tickValues([-4,-2,0,2,4,6,8]).tickFormat(d=>String(d)).tickSize(28).tickPadding(24));axisStyle(fAxis,4.5,55);
fAxis.selectAll(".tick text").attr("transform",(d,i)=>`translate(${[-7,6,8,1,6,0,-6][i]},0)`);
pF.append("line").attr("x1",2758).attr("x2",3327).attr("y1",1803).attr("y2",1803).attr("stroke",INK).attr("stroke-width",8);
txt(pF,3040,1969,"Enrichment (log2 FC)",{size:68,anchor:"middle"});

// ---------- Legend ----------
const lg=svg.append("g");
const legendEntries=[{box:1834,rug:1971,text:2035,fill:DARKRED,rugFill:RUGRED,label:"SIP-positive ASVs"},{box:2564,rug:2702,text:2766,fill:GREY,rugFill:GREY,label:"SIP-negative ASVs"}];
legendEntries.forEach(d=>{
  lg.append("rect").attr("x",d.box).attr("y",2047).attr("width",92).attr("height",52).attr("fill",d.fill).attr("stroke",INK).attr("stroke-width",8).attr("stroke-linejoin","round");
  lg.append("rect").attr("x",d.rug-7).attr("y",2048).attr("width",14).attr("height",50).attr("rx",4).attr("fill",d.rugFill);
  txt(lg,d.text,2090,d.label,{size:59});
});
txt(lg,1835,2180,"numbers indicate # ASVs (SIP-pos./ neg.)",{size:58});
txt(lg,1835,2249,"contributing to % amplicons,",{size:58});
</script>
</body></html>
